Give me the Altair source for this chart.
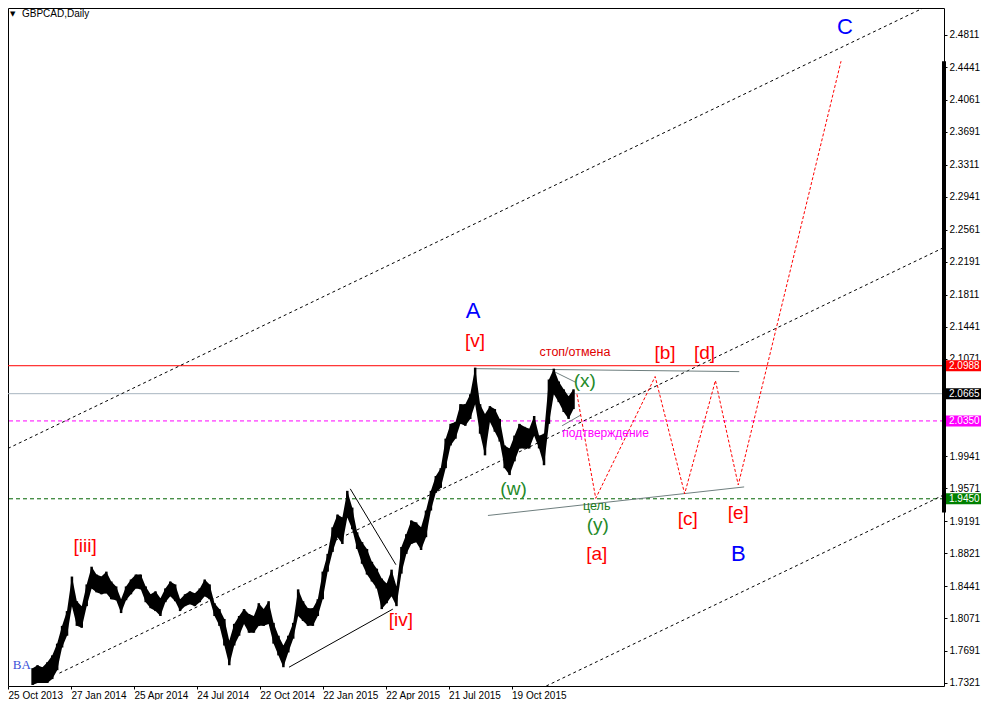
import altair as alt
import pandas as pd

W, H = 936, 678
X_MAX = 951.7
Y_MIN, Y_MAX = 1.7286, 2.5123
FONT = "Liberation Sans"

# ---------------- price history (weekly samples of daily bars) ----------------
bar_index = list(range(25, 580, 5))
highs = [1.7492, 1.7526, 1.7503, 1.7560, 1.7640, 1.7776, 1.7981, 1.8152, 1.8551, 1.8266,
         1.8209, 1.8460, 1.8665, 1.8574, 1.8551, 1.8608, 1.8494, 1.8437, 1.8289, 1.8437,
         1.8517, 1.8574, 1.8574, 1.8437, 1.8346, 1.8380, 1.8300, 1.8414, 1.8494, 1.8460,
         1.8289, 1.8346, 1.8380, 1.8357, 1.8414, 1.8517, 1.8460, 1.8243, 1.8175, 1.8061,
         1.7810, 1.8004, 1.8095, 1.8175, 1.8118, 1.8095, 1.8243, 1.8175, 1.8266, 1.8016,
         1.7867, 1.7754, 1.7867, 1.8016, 1.8403, 1.8266, 1.8186, 1.8186, 1.8289, 1.8608,
         1.8813, 1.9120, 1.9268, 1.9234, 1.9542, 1.9348, 1.9063, 1.8949, 1.8870, 1.8722,
         1.8642, 1.8528, 1.8471, 1.8631, 1.8437, 1.8893, 1.9041, 1.9200, 1.9177, 1.9120,
         1.9314, 1.9542, 1.9713, 1.9804, 2.0145, 2.0316, 2.0339, 2.0544, 2.0544, 2.0658,
         2.0966, 2.0544, 2.0430, 2.0521, 2.0487, 2.0373, 2.0066, 2.0032, 2.0180, 2.0316,
         2.0282, 2.0259, 2.0407, 2.0180, 2.0202, 2.0829, 2.0954, 2.0806, 2.0715, 2.0635,
         2.0715]
lows = [1.7298, 1.7321, 1.7321, 1.7321, 1.7366, 1.7469, 1.7731, 1.7867, 1.8209, 1.7981,
        1.7959, 1.8209, 1.8414, 1.8369, 1.8346, 1.8357, 1.8289, 1.8277, 1.8129, 1.8277,
        1.8346, 1.8414, 1.8403, 1.8255, 1.8186, 1.8152, 1.8095, 1.8255, 1.8323, 1.8266,
        1.8152, 1.8209, 1.8232, 1.8209, 1.8255, 1.8323, 1.8289, 1.8095, 1.7981, 1.7754,
        1.7526, 1.7754, 1.7867, 1.8004, 1.7902, 1.7902, 1.7981, 1.7981, 1.8004, 1.7776,
        1.7640, 1.7503, 1.7674, 1.7833, 1.8095, 1.8038, 1.7981, 1.7981, 1.8095, 1.8289,
        1.8608, 1.8836, 1.9006, 1.8927, 1.9234, 1.9098, 1.8870, 1.8699, 1.8574, 1.8494,
        1.8414, 1.8175, 1.8243, 1.8323, 1.8209, 1.8585, 1.8813, 1.8927, 1.8949, 1.8858,
        1.9006, 1.9314, 1.9519, 1.9576, 1.9804, 2.0066, 2.0145, 2.0316, 2.0294, 2.0373,
        2.0544, 2.0202, 1.9952, 2.0339, 2.0225, 2.0111, 1.9804, 1.9724, 1.9883, 2.0032,
        2.0032, 2.0032, 2.0180, 2.0032, 1.9838, 2.0316, 2.0658, 2.0567, 2.0453, 2.0373,
        2.0487]

# ---------------- axes ----------------
x_tick_bars = [0, 64, 128, 192, 256, 320, 384, 448, 512]
x_tick_labels = ["25 Oct 2013", "27 Jan 2014", "25 Apr 2014", "24 Jul 2014", "22 Oct 2014",
                 "22 Jan 2015", "22 Apr 2015", "21 Jul 2015", "19 Oct 2015"]
# the 2.0701 and 2.0321 scale labels sit under the level boxes and are not visible
y_ticks = [2.4811, 2.4441, 2.4061, 2.3691, 2.3311, 2.2941, 2.2561, 2.2191, 2.1811, 2.1441,
           2.1071, 1.9941, 1.9571, 1.9191, 1.8821, 1.8441, 1.8071, 1.7691, 1.7321]

# ---------------- horizontal levels ----------------
level_prices = [2.0988, 2.0665, 2.0350, 1.9450]
level_line_colors = ["#ff0000", "#a9b6c0", "#ff00ff", "#006400"]
level_box_colors = ["#ff0000", "#000000", "#ff00ff", "#008000"]
level_dashed = [False, False, True, True]

# ---------------- trend channel (3 parallel dashed lines) ----------------
channel_id = ["up", "up", "mid", "mid", "low", "low"]
channel_b = [0, 930.6, 52.3, 951.7, 547.3, 951.7]
channel_p = [2.0032, 2.5123, 1.7435, 2.2355, 1.7286, 1.9496]

# ---------------- solid black wave lines ----------------
black_id = ["l1", "l1", "l2", "l2"]
black_b = [348.0, 394.4, 285.7, 391.3]
black_p = [1.9565, 1.8688, 1.7503, 1.8175]

# ---------------- grey triangle lines ----------------
grey_id = ["t", "t", "b", "b", "s1", "s1", "s2", "s2"]
grey_b = [475.9, 743.5, 488.0, 748.5, 555.3, 577.5, 563.4, 582.5]
grey_p = [2.0954, 2.0920, 1.9257, 1.9587, 2.0920, 2.0795, 2.0294, 2.0419]

# ---------------- projected path ----------------
proj_b = [578.5, 597.6, 658.0, 688.0, 719.3, 742.5, 847.0]
proj_p = [2.0658, 1.9455, 2.0863, 1.9508, 2.0817, 1.9610, 2.4508]

# ---------------- wave labels ----------------
lab_text = ["[iii]", "[iv]", "[v]", "A", "стоп/отмена", "[b]", "[d]", "(x)",
            "подтверждение", "(w)", "цель", "(y)", "[a]", "[c]", "[e]", "B", "C"]
lab_b = [78.5, 399.4, 474.8, 472.8, 576.5, 668.0, 708.2, 586.5,
         607.6, 514.0, 598.6, 599.6, 598.6, 691.1, 742.5, 742.5, 851.1]
lab_p = [1.8904, 1.8050, 2.1273, 2.1626, 2.1148, 2.1136, 2.1136, 2.0806,
         2.0214, 1.9565, 1.9371, 1.9143, 1.8813, 1.9211, 1.9291, 1.8813, 2.4906]
lab_color = ["#ff0000", "#ff0000", "#ff0000", "#0000ff", "#e00000", "#ff0000", "#ff0000", "#1f8a2a",
             "#ff00ff", "#1f8a2a", "#1a7a1a", "#1f8a2a", "#ff0000", "#ff0000", "#ff0000", "#0000ff", "#0000ff"]
lab_size = [19, 19, 19, 22, 12.5, 19, 19, 19, 12, 19, 12.5, 19, 19, 19, 19, 22, 22]

range_top, range_bottom = 2.4508, 1.9291

# ================= chart =================
xscale = alt.Scale(domain=[0, X_MAX], nice=False, zero=False)
yscale = alt.Scale(domain=[Y_MIN, Y_MAX], nice=False, zero=False)
label_expr = "[" + ",".join("'%s'" % s for s in x_tick_labels) + "][round(datum.value / 64)]"
xaxis = alt.Axis(values=x_tick_bars, labelExpr=label_expr, title=None, grid=False, domain=False,
                 tickSize=3, tickColor="black", labelAlign="left", labelPadding=1, labelFlush=False,
                 labelOverlap=False, labelFont=FONT, labelFontSize=10, labelColor="black")
yaxis = alt.Axis(orient="right", values=y_ticks, format=".4f", title=None, grid=False, domain=False,
                 tickSize=3, tickColor="black", labelAlign="left", labelBaseline="middle",
                 labelPadding=2, labelFlush=False, labelOverlap=False, labelFont=FONT,
                 labelFontSize=10, labelColor="black")


def X(f="b"):
    return alt.X(f, type="quantitative", scale=xscale, axis=xaxis)


def Y(f="p"):
    return alt.Y(f, type="quantitative", scale=yscale, axis=yaxis)


layers = []

# horizontal level lines
for p, c, d in zip(level_prices, level_line_colors, level_dashed):
    kw = dict(color=c, strokeWidth=1)
    if d:
        kw["strokeDash"] = [4, 3]
    layers.append(alt.Chart(pd.DataFrame({"p": [p]})).mark_rule(**kw).encode(y=Y()))

# channel
ch = pd.DataFrame({"id": channel_id, "b": channel_b, "p": channel_p})
layers.append(alt.Chart(ch).mark_line(color="black", strokeWidth=1, strokeDash=[3, 3]).encode(
    x=X(), y=Y(), detail="id:N"))

# grey lines
gr = pd.DataFrame({"id": grey_id, "b": grey_b, "p": grey_p})
layers.append(alt.Chart(gr).mark_line(color="#6f7f7f", strokeWidth=1).encode(x=X(), y=Y(), detail="id:N"))

# black lines
bl = pd.DataFrame({"id": black_id, "b": black_b, "p": black_p})
layers.append(alt.Chart(bl).mark_line(color="black", strokeWidth=1).encode(x=X(), y=Y(), detail="id:N"))

# price
pr = pd.DataFrame({"b": bar_index, "p": lows, "p2": highs})
layers.append(alt.Chart(pr).mark_area(color="black", opacity=1).encode(
    x=X(), y=Y(), y2=alt.Y2("p2")))
layers.append(alt.Chart(pr).mark_rule(color="black", strokeWidth=2.5).encode(
    x=X(), y=Y(), y2=alt.Y2("p2")))

# projection
pj = pd.DataFrame({"b": proj_b, "p": proj_p})
layers.append(alt.Chart(pj).mark_line(color="#ff0000", strokeWidth=1, strokeDash=[3, 2]).encode(
    x=X(), y=Y()))

# labels
lb = pd.DataFrame({"t": lab_text, "b": lab_b, "p": lab_p, "c": lab_color, "s": lab_size})
layers.append(alt.Chart(lb).mark_text(font=FONT, align="center", baseline="middle").encode(
    x=X(), y=Y(), text="t:N", color=alt.Color("c:N", scale=None), size=alt.Size("s:Q", scale=None)))

ba = pd.DataFrame({"t": ["BA"], "b": [14.1], "p": [1.7526]})
layers.append(alt.Chart(ba).mark_text(font="Liberation Serif", fontSize=13, color="#3a4fd8",
                                      align="center", baseline="middle").encode(x=X(), y=Y(), text="t:N"))

# thick range bar on the right border
rg = pd.DataFrame({"p": [range_top], "p2": [range_bottom]})
layers.append(alt.Chart(rg).mark_rule(color="black", strokeWidth=4).encode(
    x=alt.value(W), y=Y(), y2=alt.Y2("p2")))

# price boxes on the axis
bx = pd.DataFrame({"p": level_prices, "c": level_box_colors,
                   "t": ["%.4f" % v for v in level_prices]})
layers.append(alt.Chart(bx).mark_rect(yOffset=-5.5, y2Offset=5.5).encode(
    x=alt.value(W + 2), x2=alt.value(W + 37), y=Y(), y2=alt.Y2("p"),
    color=alt.Color("c:N", scale=None)))
layers.append(alt.Chart(bx).mark_text(font=FONT, fontSize=10, color="white", align="left",
                                      baseline="middle").encode(
    x=alt.value(W + 5), y=Y(), text="t:N"))

# title
tt = pd.DataFrame({"t": ["GBPCAD,Daily"]})
layers.append(alt.Chart(tt).mark_text(font=FONT, fontSize=10, color="black", align="left",
                                      baseline="middle").encode(
    x=alt.value(14), y=alt.value(6), text="t:N"))
tri = pd.DataFrame({"t": ["\u25bc"]})
layers.append(alt.Chart(tri).mark_text(font="DejaVu Sans", fontSize=7, color="black", align="left",
                                       baseline="middle").encode(
    x=alt.value(2), y=alt.value(6), text="t:N"))

chart = alt.layer(*layers).properties(
    width=W, height=H,
    autosize=alt.AutoSizeParams(type="none"),
    padding={"left": 0, "top": 0, "right": 37, "bottom": 14},
    background="white",
).configure_view(stroke="black", strokeWidth=1)

chart.save("out.html", embed_options={"renderer": "svg", "actions": False})
